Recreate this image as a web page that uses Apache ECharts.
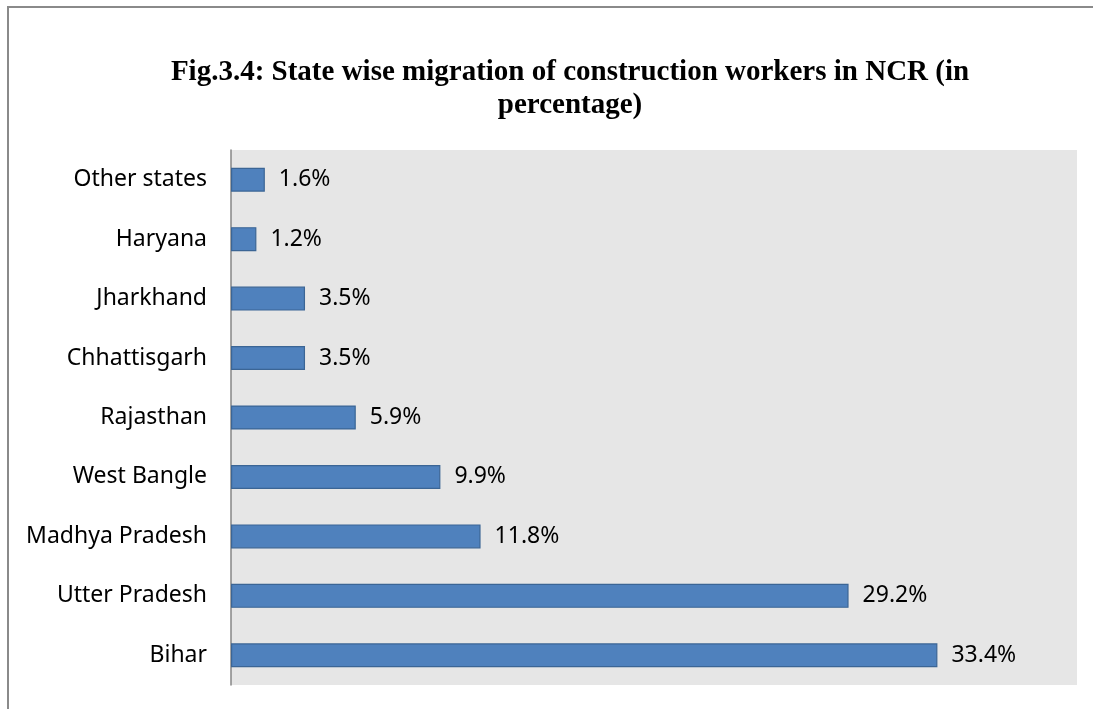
<!DOCTYPE html>
<html>
<head>
<meta charset="utf-8">
<script src="https://cdn.jsdelivr.net/npm/echarts@6/dist/echarts.min.js"></script>
<style>
html,body{margin:0;padding:0;background:#fff;}
#chart{width:1093px;height:709px;}
</style>
</head>
<body>
<div id="chart"></div>
<script>
const categories = ["Bihar","Utter Pradesh","Madhya Pradesh","West Bangle","Rajasthan","Chhattisgarh","Jharkhand","Haryana","Other states"];
const values = [33.4, 29.2, 11.8, 9.9, 5.9, 3.5, 3.5, 1.2, 1.6];
const titleLines = ["Fig.3.4: State wise migration of construction workers in NCR (in", "percentage)"];

const chart = echarts.init(document.getElementById('chart'), null, {renderer:'canvas'});
chart.setOption({
  backgroundColor: '#ffffff',
  animation: false,
  title: {
    text: titleLines.join('\n'),
    left: 565,
    textAlign: 'center',
    top: 51,
    textStyle: {
      fontFamily: 'Liberation Serif',
      fontWeight: 'bold',
      fontSize: 29,
      lineHeight: 33,
      color: '#000'
    }
  },
  graphic: [{
    type: 'rect',
    shape: {x: 8, y: 7, width: 1300, height: 900},
    style: {fill: 'none', stroke: '#8a8a8a', lineWidth: 2},
    silent: true,
    z: 100
  }],
  grid: {
    left: 231, top: 150, right: 16, bottom: 24,
    show: true, backgroundColor: '#E6E6E6', borderWidth: 0,
    containLabel: false
  },
  xAxis: {
    type: 'value', min: 0, max: 40,
    show: false
  },
  yAxis: {
    type: 'category',
    data: categories,
    axisLine: {show: true, lineStyle: {color: '#868686', width: 1.5}},
    axisTick: {show: false},
    axisLabel: {
      margin: 24,
      color: '#000',
      fontFamily: 'Noto Sans',
      fontSize: 23,
      padding: [4, 0, 0, 0]
    },
    splitLine: {show: false}
  },
  series: [{
    type: 'bar',
    data: values,
    barWidth: 24,
    itemStyle: {color: '#4F81BD', borderColor: '#3B6595', borderWidth: 1.2},
    label: {
      show: true,
      position: 'right',
      distance: 14,
      formatter: p => p.value.toFixed(1) + '%',
      color: '#000',
      fontFamily: 'Noto Sans',
      fontSize: 23,
      padding: [4, 0, 0, 0]
    }
  }]
});
</script>
</body>
</html>
